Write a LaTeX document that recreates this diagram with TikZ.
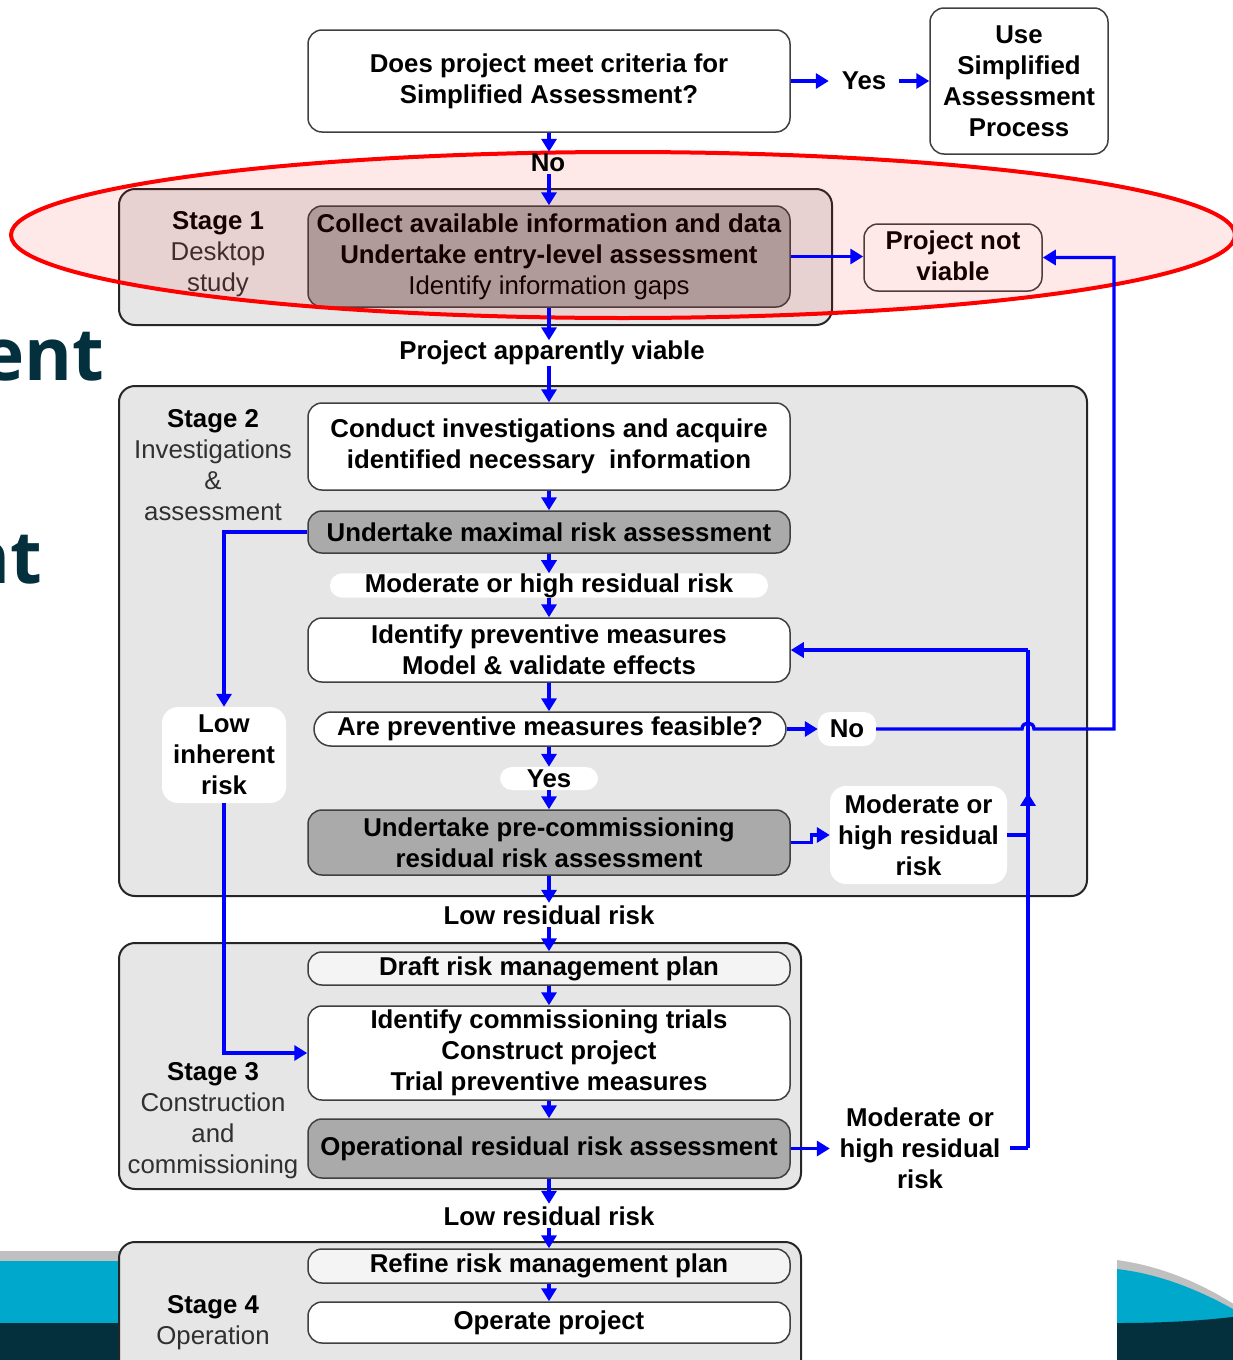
\documentclass[tikz,border=0pt]{standalone}
\usepackage{fontspec}
\setmainfont{Liberation Sans}
\newfontfamily\bgfont{Open Sans}
\usetikzlibrary{arrows.meta,calc,decorations.markings}
\definecolor{stagebg}{HTML}{E6E6E6}
\definecolor{boxgray}{HTML}{AAAAAA}
\definecolor{boxlight}{HTML}{F4F4F4}
\definecolor{flowblue}{HTML}{0000FF}
\definecolor{slideteal}{HTML}{00A8CC}
\definecolor{slidedark}{HTML}{03303C}
\definecolor{slidegray}{HTML}{C0C0C0}
\definecolor{textdark}{HTML}{303030}
\newcommand\fsz{\fontsize{25.8pt}{31pt}\selectfont}
\begin{document}
\begin{tikzpicture}[x=1pt,y=-1pt,
  every node/.style={font=\fsz, text=black},
  stagebox/.style={draw=black!85, line width=2pt, fill=stagebg, rounded corners=16pt, inner sep=0pt},
  procbox/.style={draw=black!75, line width=1.5pt, rounded corners=14pt, align=center, inner sep=0pt, font=\fsz\bfseries},
  whitebox/.style={procbox, fill=white},
  graybox/.style={procbox, fill=boxgray},
  lightbox/.style={procbox, fill=boxlight},
  flowlabel/.style={fill=white, rounded corners=12pt, align=center, inner sep=0pt, font=\fsz\bfseries},
  plainlabel/.style={align=center, inner sep=0pt, font=\fsz\bfseries},
  stagelabel/.style={align=center, inner sep=0pt, text=textdark},
  flowline/.style={color=flowblue, line width=3.4pt},
  flowarrow/.style={flowline, -{Triangle[length=13pt,width=15pt]}},
  bgtext/.style={font=\bgfont\bfseries\fontsize{73pt}{80pt}\selectfont, text=slidedark, inner sep=0pt},
]
\useasboundingbox (0,0) rectangle (1233,1360);

% ---- slide background remnants ----
\fill[slidegray] (0,1251) rectangle (130,1261);
\fill[slideteal] (0,1261) rectangle (130,1323);
\fill[slidedark] (0,1323) rectangle (130,1365);
\fill[slidegray] (1117,1260) .. controls (1160,1266) and (1200,1282) .. (1240,1308) -- (1240,1365) -- (1117,1365) -- cycle;
\fill[slideteal] (1117,1269) .. controls (1160,1274) and (1200,1290) .. (1240,1313) -- (1240,1365) -- (1117,1365) -- cycle;
\fill[slidedark] (1117,1323) .. controls (1170,1323) and (1210,1320) .. (1240,1316) -- (1240,1365) -- (1117,1365) -- cycle;
\node[bgtext, anchor=base east] (bgent) at (104,380) {ent};
\node[bgtext, anchor=base east] (bgnt) at (42,583) {nt};

% ---- stage containers ----
\node[stagebox, minimum width=713, minimum height=136] (s1) at (475.5,257) {};
\node[stagebox, minimum width=968, minimum height=510] (s2) at (603,641) {};
\node[stagebox, minimum width=682, minimum height=246] (s3) at (460,1066) {};
\node[stagebox, minimum width=682, minimum height=136] (s4) at (460,1310) {};

% ---- top ----
\node[whitebox, minimum width=482, minimum height=102] (q) at (549,81) {Does project meet criteria for\\Simplified Assessment?};
\node[whitebox, minimum width=178, minimum height=146] (usap) at (1019,81) {Use\\Simplified\\Assessment\\Process};
\node[plainlabel, minimum width=70] (yes1) at (864,81) {Yes};

% ---- stage 1 ----
\node[stagelabel] (s1l) at (218,254) {\textbf{\color{black}Stage 1}\\Desktop\\study};
\node[graybox, minimum width=482, minimum height=101, font=\fsz] (c1) at (549,256.5) {\textbf{Collect available information and data}\\\textbf{Undertake entry-level assessment}\\Identify information gaps};
\node[whitebox, minimum width=178, minimum height=67] (pnv) at (953,257.5) {Project not\\viable\rule[-3pt]{0pt}{1pt}};

% highlight ellipse
\draw[red, line width=4pt, fill=red, fill opacity=0.09] (623,235) ellipse [x radius=612, y radius=83];

\node[plainlabel, inner ysep=2pt] (no1) at (548,163) {No};
\node[plainlabel, minimum height=25] (pav) at (552,353) {Project apparently viable};

% ---- stage 2 ----
\node[stagelabel] (s2l) at (213,465) {\textbf{\color{black}Stage 2}\\Investigations\\\&\\assessment};
\node[whitebox, minimum width=482, minimum height=87] (c2) at (549,446.5) {Conduct investigations and acquire\\identified necessary~~information};
\node[graybox, minimum width=482, minimum height=42] (umr) at (549,532) {Undertake maximal risk assessment};
\node[flowlabel, minimum width=438, minimum height=23] (mhr) at (549,585.5) {Moderate or high residual risk};
\node[whitebox, minimum width=482, minimum height=64] (ipm) at (549,650) {Identify preventive measures\\Model \& validate effects};
\node[whitebox, minimum width=472, minimum height=34, rounded corners=17pt] (apf) at (550,729) {Are preventive measures feasible?};
\node[flowlabel, minimum width=58, minimum height=34] (no2) at (847,729) {No};
\node[flowlabel, minimum width=98, minimum height=23] (yes2) at (549,778.5) {Yes};
\node[graybox, minimum width=482, minimum height=65] (ppc) at (549,842.5) {Undertake pre-commissioning\\residual risk assessment};
\node[flowlabel, minimum width=177, minimum height=98, rounded corners=16pt] (mh2) at (918.5,835) {Moderate or\\high residual\\risk};
\node[flowlabel, minimum width=124, minimum height=96, rounded corners=16pt] (lir) at (224,755) {Low\\inherent\\risk};

\node[plainlabel, minimum height=24] (lrr1) at (549,915) {Low residual risk};

% ---- stage 3 ----
\node[stagelabel] (s3l) at (213,1121) {\textbf{\color{black}Stage 3}\\Construction\\and\\commissioning};
\node[lightbox, minimum width=482, minimum height=33] (drp) at (549,968.5) {Draft risk management plan};
\node[whitebox, minimum width=482, minimum height=94] (icp) at (549,1053) {Identify commissioning trials\\Construct project\\Trial preventive measures};
\node[graybox, minimum width=482, minimum height=59] (ora) at (549,1148.5) {Operational residual risk assessment};
\node[plainlabel, minimum width=180] (mh3) at (920,1148) {Moderate or\\high residual\\risk};

\node[plainlabel, minimum height=24] (lrr2) at (549,1216) {Low residual risk};

% ---- stage 4 ----
\node[stagelabel] (s4l) at (213,1322.5) {\textbf{\color{black}Stage 4}\\Operation};
\node[lightbox, minimum width=482, minimum height=34] (rrp) at (549,1266) {Refine risk management plan};
\node[whitebox, minimum width=482, minimum height=41] (op) at (549,1322.5) {Operate project};

% ---- loop coordinates ----
\coordinate (loopTop) at (1028,650);
\coordinate (loopBot) at (1028,1148);
\coordinate (rt) at (1114,729);
\coordinate (hopA) at ($(no2.east -| loopTop)+(-6,0)$);
\coordinate (hopB) at ($(no2.east -| loopTop)+(6,0)$);

% ---- connectors ----
\draw[flowarrow] (q.east) -- (q.east -| yes1.west);
\draw[flowarrow] (yes1.east) -- (yes1.east -| usap.west);
\draw[flowarrow] (q.south) -- (q.south |- no1.north);
\draw[flowarrow] (q.south |- no1.south) -- (c1.north);
\draw[flowarrow] (c1.east) -- (c1.east -| pnv.west);
\draw[flowarrow] (c1.south) -- (c1.south |- pav.north);
\draw[flowarrow] (c1.south |- pav.south) -- (c2.north);
\draw[flowarrow] (c2.south) -- (umr.north);
\draw[flowarrow] (umr.south) -- (mhr.north);
\draw[flowarrow] (mhr.south) -- (ipm.north);
\draw[flowarrow] (ipm.south) -- (ipm.south |- apf.north);
\draw[flowarrow] (ipm.south |- apf.south) -- (yes2.north);
\draw[flowarrow] (yes2.south) -- (ppc.north);
\draw[flowarrow] (apf.east) -- (no2.west);
\draw[flowarrow] (no2.east) -- (hopA) .. controls +(0,-8) and +(0,-8) .. (hopB) -- (rt) |- (pnv.east);
\draw[flowarrow] (ppc.east) -- ++(21,0) |- (mh2.west);
\draw[flowline] (mh2.east) -- (mh2.east -| loopTop);
\draw[flowarrow] (umr.west) -| (lir.north);
\draw[flowarrow] (lir.south) |- (icp.west);
\draw[flowarrow] (ppc.south) -- (ppc.south |- lrr1.north);
\draw[flowarrow] (ppc.south |- lrr1.south) -- (drp.north);
\draw[flowarrow] (drp.south) -- (icp.north);
\draw[flowarrow] (icp.south) -- (ora.north);
\draw[flowarrow] (ora.east) -- (ora.east -| mh3.west);
\draw[flowline] (mh3.east) -- (loopBot);
\draw[flowline, postaction={decorate}, decoration={markings, mark=at position 0.713 with {\arrow{Triangle[length=13pt,width=15pt]}}}] (loopBot) -- (loopTop);
\draw[flowarrow] (loopTop) -- (ipm.east);
\draw[flowarrow] (ora.south) -- (ora.south |- lrr2.north);
\draw[flowarrow] (ora.south |- lrr2.south) -- (rrp.north);
\draw[flowarrow] (rrp.south) -- (op.north);
\end{tikzpicture}
\end{document}
